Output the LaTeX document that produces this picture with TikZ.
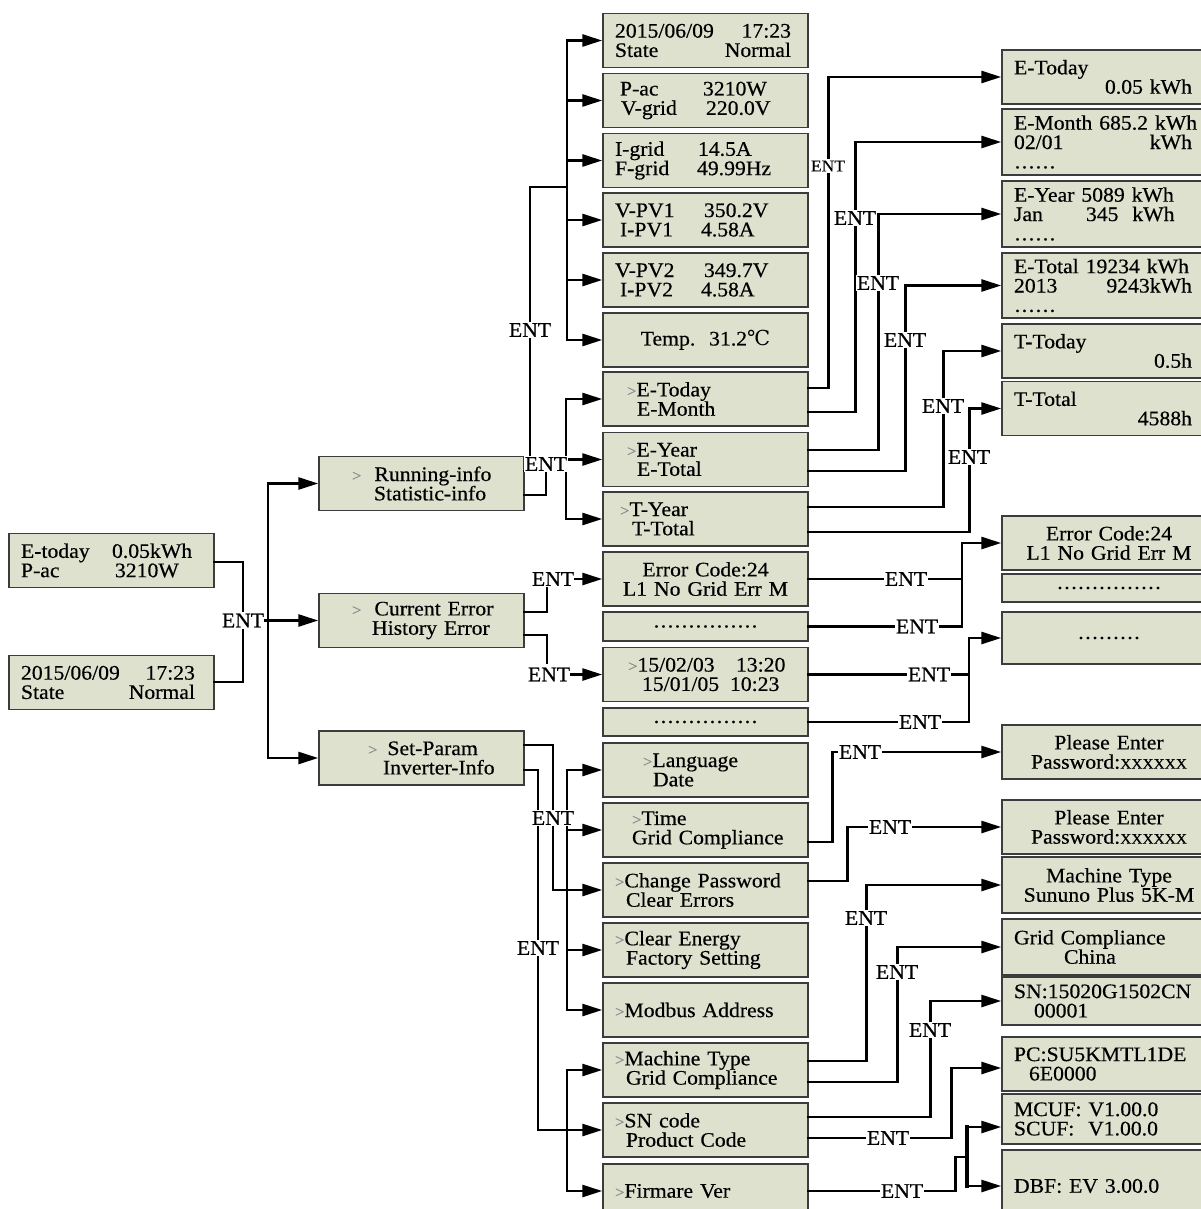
\documentclass[tikz,border=0pt]{standalone}
\usepackage{fontspec}
\setmainfont{Liberation Serif}[FakeStretch=1.05,FakeBold=0.4]
\newfontfamily\degfont{DejaVu Serif}
\usetikzlibrary{arrows.meta,calc}

\newdimen\px \px=0.75pt
\definecolor{lcdfill}{RGB}{221,225,206}
\definecolor{lcdline}{RGB}{60,60,60}
\newcommand\lcdfont{\fontsize{15.5}{14.5}\selectfont}
\newcommand\lr[3][176\px]{\makebox[#1][l]{#2\hfill#3}}
\newcommand\kv[3]{\makebox[#1][l]{#2}#3}
\newcommand\gt{{\color{black!45}\fontsize{12}{12}\selectfont >}}
\newcommand\ind[1]{\hspace*{#1\px}}
\newcommand\dotrow[1]{\foreach \dd in {1,...,#1}{\makebox[7\px]{.}}}

\tikzset{
  lcd/.style={draw=lcdline, fill=lcdfill, line width=1.1pt, minimum width=205\px,
    minimum height=54\px, text width=181\px, inner xsep=12\px, inner ysep=0pt,
    align=left, font=\lcdfont},
  lcdc/.style={lcd, align=center},
  lcdr/.style={lcd, minimum width=214\px, text width=190\px},
  lcdrc/.style={lcdr, align=center},
  link/.style={line width=2pt, line cap=rect},
  arr/.style={link, -{Triangle[length=15pt,width=9pt]}},
  ent/.style={fill=white, inner sep=1pt, font=\lcdfont},
  sment/.style={ent, font=\fontsize{12.5}{12.5}\selectfont},
}

\begin{document}
\begin{tikzpicture}[x=0.75pt,y=-0.75pt]
\useasboundingbox (0,0) rectangle (1201,1209);

% start screens
\node[lcd] (L1) at (111.5,560.5) {\kv{91\px}{E-today}{0.05kWh}\\\kv{94\px}{P-ac}{3210W}};
\node[lcd] (L2) at (111.5,682.5) {\lr[174\px]{2015/06/09}{17:23}\\\lr[174\px]{State}{Normal}};

% main menu
\node[lcd] (M1) at (421.5,483.5) {\ind{21}\gt\hspace{13\px}Running-info\\\ind{43}Statistic-info};
\node[lcd] (M2) at (421.5,620.5) {\ind{21}\gt\hspace{13\px}Current Error\\\ind{41}History Error};
\node[lcd] (M3) at (421.5,758) {\ind{37}\gt\hspace{10\px}Set-Param\\\ind{52}Inverter-Info};

% sub menus
\node[lcd] (R1) at (705.5,40.5) {\lr{2015/06/09}{17:23}\\\lr{State}{Normal}};
\node[lcd] (R2) at (705.5,100.5) {\ind{5}\kv{83\px}{P-ac}{3210W}\\\ind{6}\kv{85\px}{V-grid}{220.0V}};
\node[lcd] (R3) at (705.5,160.5) {\kv{83\px}{I-grid}{14.5A}\\\kv{82\px}{F-grid}{49.99Hz}};
\node[lcd] (R4) at (705.5,220) {\kv{89\px}{V-PV1}{350.2V}\\\ind{5}\kv{81\px}{I-PV1}{4.58A}};
\node[lcd] (R5) at (705.5,280) {\kv{89\px}{V-PV2}{349.7V}\\\ind{5}\kv{81\px}{I-PV2}{4.58A}};
\node[lcdc] (R6) at (705.5,340) {Temp.\ \ 31.2{\degfont ℃}};
\node[lcd] (R7) at (705.5,399) {\ind{12}\gt E-Today\\\ind{22}E-Month};
\node[lcd] (R8) at (705.5,459.5) {\ind{12}\gt E-Year\\\ind{22}E-Total};
\node[lcd] (R9) at (705.5,519) {\ind{5}\gt T-Year\\\ind{17}T-Total};
\node[lcdc] (R10) at (705.5,579) {Error Code:24\\L1 No Grid Err M};
\node[lcdc, minimum height=29\px] (R11) at (705.5,626.5) {\dotrow{15}};
\node[lcd] (R12) at (705.5,674.5) {\ind{13}\kv{108\px}{\gt 15/02/03}{13:20}\\\ind{27}\kv{88\px}{15/01/05}{10:23}};
\node[lcdc, minimum height=28\px] (R13) at (705.5,722) {\dotrow{15}};
\node[lcd] (R14) at (705.5,770) {\ind{28}\gt Language\\\ind{38}Date};
\node[lcd] (R15) at (705.5,830) {\ind{17}\gt Time\\\ind{17}Grid Compliance};
\node[lcd] (R16) at (705.5,890) {\gt Change Password\\\ind{11}Clear Errors};
\node[lcd] (R17) at (705.5,950) {\gt Clear Energy\\\ind{11}Factory Setting};
\node[lcd] (R18) at (705.5,1010) {\gt Modbus Address};
\node[lcd] (R19) at (705.5,1070) {\gt Machine Type\\\ind{11}Grid Compliance};
\node[lcd] (R20) at (705.5,1130) {\gt SN code\\\ind{11}Product Code};
\node[lcd] (R21) at (705.5,1191) {\gt Firmare Ver};

% result screens
\node[lcdr] (F1) at (1109,77) {E-Today\\\lr[178\px]{}{0.05 kWh}};
\node[lcdr, minimum height=66\px] (F2) at (1109,142) {E-Month 685.2 kWh\\\lr[178\px]{02/01}{kWh}\\\dotrow{6}};
\node[lcdr, minimum height=66\px] (F3) at (1109,214) {E-Year 5089 kWh\\\kv{72\px}{Jan}{345\ \ kWh}\\\dotrow{6}};
\node[lcdr, minimum height=65\px] (F4) at (1109,285.5) {E-Total 19234 kWh\\\lr[178\px]{2013}{9243kWh}\\\dotrow{6}};
\node[lcdr] (F5) at (1109,351) {T-Today\\\lr[178\px]{}{0.5h}};
\node[lcdr] (F6) at (1109,408.5) {T-Total\\\lr[178\px]{}{4588h}};
\node[lcdrc] (F7) at (1109,543) {Error Code:24\\L1 No Grid Err M};
\node[lcdrc, minimum height=28\px] (F8) at (1109,588) {\dotrow{15}};
\node[lcdrc, minimum height=52\px] (F9) at (1109,638) {\dotrow{9}};
\node[lcdrc] (F10) at (1109,752) {Please Enter\\Password:{\fontsize{11}{11}\selectfont XXXXXX}};
\node[lcdrc] (F11) at (1109,827) {Please Enter\\Password:{\fontsize{11}{11}\selectfont XXXXXX}};
\node[lcdrc, minimum height=56\px] (F12) at (1109,885) {Machine Type\\Sununo Plus 5K-M};
\node[lcdr, minimum height=56\px] (F13) at (1109,947) {Grid Compliance\\\ind{50}China};
\node[lcdr, minimum height=48\px] (F14) at (1109,1001) {SN:15020G1502CN\\\ind{20}00001};
\node[lcdr] (F15) at (1109,1064) {PC:SU5KMTL1DE\\\ind{15}6E0000};
\node[lcdr, minimum height=50\px] (F16) at (1109,1119) {MCUF: V1.00.0\\SCUF:\ \ V1.00.0};
\node[lcdr, minimum height=72\px] (F17) at (1109,1186) {DBF: EV 3.00.0};

% bus lines
\coordinate (b0) at (268,0);
\coordinate (b1) at (567,0);
\coordinate (b2) at (566,0);
\coordinate (b3) at (567,0);
\coordinate (b7) at (962,0);
\coordinate (b9) at (969,0);
\coordinate (b8) at (967,0);

% start screens -> main menu
\draw[link] ($(L1.east)+(0,1.5)$) -| (243,620.5);
\draw[link] ($(L2.east)+(0,-0.5)$) -| (243,620.5);
\draw[arr] (M2.west -| b0) |- (M1.west);
\draw[arr] (M2.west -| b0) |- (M3.west);

% running info
\draw[link] ($(M1.east)+(0,-12.5)$) -| (530,187) -- (567,187);
\draw[link] (R1.west -| b1) -- (R6.west -| b1);
\foreach \n in {R1,R2,R3,R4,R5,R6}
	\draw[arr] (\n.west -| b1) -- (\n.west);

% statistic info
\draw[link] ($(M1.east)+(0,11.5)$) -| (546,459.5) -- (R8.west -| b2);
\draw[link] (R7.west -| b2) -- (R9.west -| b2);
\foreach \n in {R7,R8,R9}
	\draw[arr] (\n.west -| b2) -- (\n.west);

% errors
\draw[link] ($(M2.east)+(0,-8.5)$) -| (547,588);
\draw[link] ($(M2.east)+(0,14.5)$) -| (547,663);

% settings
\draw[link] ($(M3.east)+(0,-13)$) -| (553,890) -- (R16.west -| b3);
\draw[link] (R14.west -| b3) -- (R18.west -| b3);
\foreach \n in {R14,R15,R16,R17,R18}
	\draw[arr] (\n.west -| b3) -- (\n.west);
\draw[link] ($(M3.east)+(0,12)$) -| (538,1130) -- (R20.west -| b3);
\draw[link] (R19.west -| b3) -- (R21.west -| b3);
\foreach \n in {R19,R20,R21}
	\draw[arr] (\n.west -| b3) -- (\n.west);

% statistic screens
\draw[arr] ($(R7.east)+(0,-11)$) -- ++(20,0) |- (F1.west);
\draw[arr] ($(R7.east)+(0,13)$) -- ++(47,0) |- (F2.west);
\draw[arr] ($(R8.east)+(0,-9.5)$) -- ++(70,0) |- (F3.west);
\draw[arr] ($(R8.east)+(0,11.5)$) -- ++(97,0) |- (F4.west);
\draw[arr] ($(R9.east)+(0,-12)$) -- ++(135,0) |- (F5.west);
\draw[arr] ($(R9.east)+(0,13)$) -- ++(161,0) |- (F6.west);

% error screens
\draw[arr] (R10.east) -| (F7.west -| b7) -- (F7.west);
\draw[link] (R11.east) -| (F7.west -| b7);
\draw[arr] (R12.east) -| (F9.west -| b9) -- (F9.west);
\draw[link] (R13.east) -| (F9.west -| b9);

% password screens
\draw[arr] ($(R15.east)+(0,12)$) -- ++(24,0) |- (F10.west);
\draw[arr] ($(R16.east)+(0,-9)$) -- ++(39,0) |- (F11.west);

% inverter info screens
\draw[arr] ($(R19.east)+(0,-9)$) -- ++(58,0) |- (F12.west);
\draw[arr] ($(R19.east)+(0,12)$) -- ++(89,0) |- (F13.west);
\draw[arr] ($(R20.east)+(0,-13)$) -- ++(122,0) |- (F14.west);
\draw[arr] ($(R20.east)+(0,8)$) -- ++(143,0) |- ($(F15.west)+(0,4)$);
\draw[link] (R21.east) -- ++(147,0) |- (967,1157);
\draw[link, line width=3pt] ($(F16.west -| b8)+(0,8)$) -- (F17.west -| b8);
\draw[arr] ($(F16.west -| b8)+(0,8)$) -- ($(F16.west)+(0,8)$);
\draw[arr] (F17.west -| b8) -- (F17.west);

% ENT labels
\node[ent] (e0) at (243,620.5) {ENT};
\node[ent] (eRun) at (530,330) {ENT};
\node[ent] (eStat) at (546,464) {ENT};
\node[ent] (eCur) at (553,579) {ENT};
\node[ent] (eHis) at (549,674.5) {ENT};
\node[ent] (eSet) at (553,818) {ENT};
\node[ent] (eInv) at (538,948) {ENT};
\node[sment] (eF1) at (828,166) {ENT};
\node[ent] (eF2) at (855,218) {ENT};
\node[ent] (eF3) at (878,283) {ENT};
\node[ent] (eF4) at (905,340) {ENT};
\node[ent] (eF5) at (943,406) {ENT};
\node[ent] (eF6) at (969,457) {ENT};
\node[ent] (eE1) at (906,579) {ENT};
\node[ent] (eE2) at (917,626.5) {ENT};
\node[ent] (eE3) at (929,674.5) {ENT};
\node[ent] (eE4) at (920,722) {ENT};
\node[ent] (eP1) at (860,752) {ENT};
\node[ent] (eP2) at (890,827) {ENT};
\node[ent] (eI1) at (866,918) {ENT};
\node[ent] (eI2) at (897,972) {ENT};
\node[ent] (eI3) at (930,1030) {ENT};
\node[ent] (eI4) at (888,1138) {ENT};
\node[ent] (eI5) at (902,1191) {ENT};

\draw[arr] (e0.east) -- (M2.west);
\draw[arr] (eCur.east) -- (R10.west);
\draw[arr] (eHis.east) -- (R12.west);

\end{tikzpicture}
\end{document}
